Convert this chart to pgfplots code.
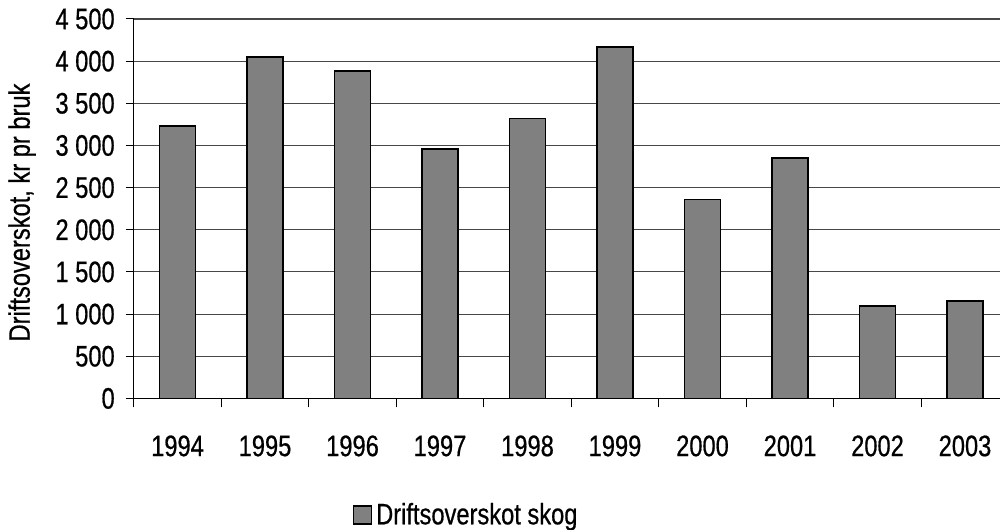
\documentclass[border=0pt]{standalone}
\usepackage{pgfplots}
\pgfplotsset{compat=1.18}
\usepackage{fontspec}
\setmainfont[FakeStretch=0.8, FakeBold=0.6]{Liberation Sans}
\newcommand{\cf}{\fontsize{14.8pt}{17pt}\selectfont}
\begin{document}
\begin{tikzpicture}
\useasboundingbox (-66.9pt,-65.35pt) rectangle (433.1pt,199.2pt);
\begin{axis}[
  at={(0,0)}, anchor=south west,
  scale only axis,
  width=433.1pt, height=189.7pt,
  xmin=-0.5, xmax=9.4,
  ymin=0, ymax=4500,
  axis x line*=bottom, axis y line*=left,
  axis line style={-, black, line width=0.6pt},
  xtick={0,...,9},
  xticklabels={1994,1995,1996,1997,1998,1999,2000,2001,2002,2003},
  major x tick style={draw=none},
  minor xtick={-0.5,0.5,...,8.5},
  minor x tick style={black, line width=0.6pt},
  minor tick length=4.5pt,
  major tick length=4pt,
  tick align=outside,
  ytick={0,500,...,4500},
  yticklabels={0,500,1 000,1 500,2 000,2 500,3 000,3 500,4 000,4 500},
  ytick style={black, line width=0.5pt},
  ymajorgrids,
  grid style={line width=0.55pt, color=black!72},
  tick label style={font=\cf},
  /pgf/number format/assume math mode=true,
  xticklabel style={yshift=-11pt},
  yticklabel style={xshift=-2pt},
  ylabel={Driftsoverskot, kr pr bruk},
  ylabel style={font=\cf, at={(axis description cs:-0.129,0.49)}, anchor=center},
  legend style={font=\cf, at={(0.3847,-0.3076)}, anchor=center, draw=none, fill=none, inner sep=0pt},
  legend image code/.code={\draw[#1, line width=0.8pt] (0pt,-4.5pt) rectangle (9pt,4.5pt);},
]
\addplot[ybar, bar width=18pt, fill=black!50, draw=black, line width=0.9pt] coordinates {
 (0,3230) (1,4050) (2,3880) (3,2960) (4,3320) (5,4170) (6,2360) (7,2850) (8,1100) (9,1155)
};
\addlegendentry{Driftsoverskot skog}
\end{axis}
\end{tikzpicture}
\end{document}
